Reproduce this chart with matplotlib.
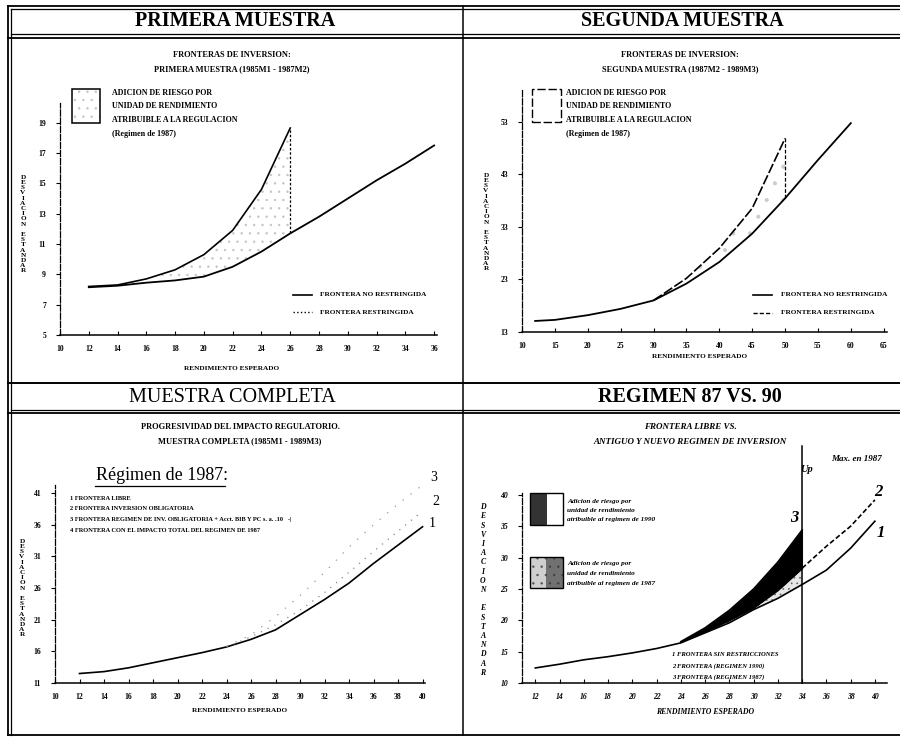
import numpy as np
import matplotlib
matplotlib.use("Agg")
from matplotlib import pyplot as plt
from matplotlib.lines import Line2D
from matplotlib.patches import Rectangle

plt.rcParams["hatch.linewidth"] = 0.5

# ---- datos ----
# primera muestra
x1 = [12, 14, 16, 18, 20, 22, 24, 26, 28, 30, 32, 34, 36]
libre1 = [8.15, 8.25, 8.45, 8.6, 8.85, 9.5, 10.5, 11.7, 12.8, 14.0, 15.2, 16.3, 17.5]
x1r = [12, 14, 16, 18, 20, 22, 24, 26]
restr1 = [8.2, 8.3, 8.7, 9.3, 10.3, 11.9, 14.6, 18.65]

# segunda muestra
x2 = [12, 15, 20, 25, 30, 35, 40, 45, 50, 55, 60]
libre2 = [15.1, 15.3, 16.2, 17.4, 19.0, 22.2, 26.3, 31.7, 38.4, 45.7, 52.7]
x2r = [30, 35, 40, 45, 50]
restr2 = [19.0, 23.2, 28.9, 36.5, 49.8]

# muestra completa
x3 = [12, 14, 16, 18, 20, 22, 24, 26, 28, 30, 32, 34, 36, 38, 40]
libre3 = [12.5, 12.8, 13.4, 14.2, 15.0, 15.8, 16.7, 17.9, 19.4, 21.8, 24.2, 26.8, 29.9, 32.8, 35.7]
x3b = [24, 26, 28, 30, 32, 34, 36, 38, 40]
oblig3 = [16.7, 18.3, 20.2, 22.5, 25.3, 28.5, 31.8, 35.0, 38.2]
reg3 = [16.8, 18.6, 21.5, 24.8, 28.5, 32.5, 36.0, 39.3, 42.3]

# regimen 87 vs 90
x4 = [12, 14, 16, 18, 20, 22, 24, 26, 28, 30, 32, 34, 36, 38, 40]
libre4 = [12.4, 13.0, 13.7, 14.2, 14.8, 15.5, 16.4, 18.0, 19.6, 21.7, 23.5, 25.7, 28.0, 31.5, 35.8]
x4b = [24, 26, 28, 30, 32, 34, 36, 38, 40]
reg90 = [16.5, 18.2, 20.0, 22.0, 24.8, 28.3, 31.8, 35.0, 39.2]
x4c = [24, 26, 28, 30, 32, 34]
reg87 = [16.6, 18.8, 21.6, 25.0, 29.3, 34.4]
max87 = 34

ylab = "\n".join("DESVIACION") + "\n\n" + "\n".join("ESTANDAR")
SERIF = ["Liberation Serif", "DejaVu Serif"]

W, H = 900, 738
fig = plt.figure(figsize=(9, 7.38), dpi=100)
fig.patch.set_facecolor("white")


def fx(x):
    return x / W


def fy(y):
    return 1 - y / H


def line_px(xs, ys, lw=1.3, **kw):
    fig.add_artist(Line2D([fx(v) for v in xs], [fy(v) for v in ys], color="k", lw=lw, **kw))


def text_px(x, y, s, size=6, **kw):
    kw.setdefault("family", SERIF)
    kw.setdefault("weight", "bold")
    fig.text(fx(x), fy(y), s, fontsize=size, **kw)


def rect_px(x0, y0, x1, y1, **kw):
    fig.add_artist(Rectangle((fx(x0), fy(y1)), fx(x1 - x0), y1 / H - y0 / H,
                             transform=fig.transFigure, **kw))


def axes_px(l, t, r, b, xlim, ylim, xt, yt, italic=False):
    ax = fig.add_axes([fx(l), fy(b), fx(r - l), (b - t) / H])
    ax.set_xlim(xlim)
    ax.set_ylim(ylim)
    for s in ["top", "right"]:
        ax.spines[s].set_visible(False)
    ax.spines["left"].set_linestyle((0, (5, 1.5)))
    ax.spines["left"].set_linewidth(0.9)
    ax.spines["bottom"].set_linewidth(1.1)
    ax.set_xticks(xt)
    ax.set_yticks(yt)
    ax.tick_params(axis="x", direction="in", length=3, width=0.8, pad=7)
    ax.tick_params(axis="y", direction="out", length=3, width=0.8, pad=7)
    style = "italic" if italic else "normal"
    for lab in ax.get_xticklabels() + ax.get_yticklabels():
        lab.set_family(SERIF)
        lab.set_weight("bold")
        lab.set_fontsize(5.5)
        lab.set_style(style)
    ax.patch.set_alpha(0)
    return ax


# ---- marcos de la pagina ----
line_px([8, 900], [6, 6])
line_px([11, 900], [9, 9], lw=0.9)
line_px([11, 900], [34, 34], lw=0.9)
line_px([8, 900], [38, 38])
line_px([8, 8], [6, 735])
line_px([11, 11], [9, 735], lw=0.9)
line_px([463, 463], [6, 735], lw=1.1)
line_px([8, 900], [383, 383], lw=1.4)
line_px([11, 900], [410, 410], lw=0.9)
line_px([8, 900], [413, 413])
line_px([8, 900], [735, 735])

text_px(235, 21, "PRIMERA MUESTRA", size=14.5, ha="center", va="center")
text_px(682, 21, "SEGUNDA MUESTRA", size=14.5, ha="center", va="center")
text_px(232, 397, "MUESTRA COMPLETA", size=14.5, ha="center", va="center", weight="normal")
text_px(690, 397, "REGIMEN 87 VS. 90", size=14.5, ha="center", va="center")

# ---- panel 1: primera muestra ----
ax1 = axes_px(60, 103, 437, 335, (10, 36.2), (5, 20.3), range(10, 37, 2), range(5, 20, 2))
ax1.fill_between(x1r, libre1[:len(x1r)], restr1, facecolor="none", edgecolor="#c4c4c4",
                 hatch="..", lw=0)
ax1.plot(x1, libre1, color="k", lw=1.3)
ax1.plot(x1r, restr1, color="k", lw=1.2)
ax1.vlines(x1r[-1], libre1[len(x1r) - 1], restr1[-1], colors="k", linestyles=(0, (2, 1.5)), lw=0.9)

text_px(232, 55, "FRONTERAS DE INVERSION:", ha="center", va="center")
text_px(232, 69, "PRIMERA MUESTRA (1985M1 - 1987M2)", ha="center", va="center")
rect_px(72, 89, 100, 123, facecolor="none", edgecolor="#c4c4c4", hatch="..", lw=0)
rect_px(72, 89, 100, 123, facecolor="none", edgecolor="k", lw=1.1)
for i, s in enumerate(["ADICION DE RIESGO POR", "UNIDAD DE RENDIMIENTO",
                       "ATRIBUIBLE A LA REGULACION", "(Regimen de 1987)"]):
    text_px(112, 93 + i * 13.5, s, size=5.8, va="center")
line_px([293, 312], [295, 295], lw=1.2)
line_px([293, 312], [312, 312], lw=1.0, ls=":")
text_px(320, 295, "FRONTERA NO RESTRINGIDA", size=5.2, va="center")
text_px(320, 312, "FRONTERA RESTRINGIDA", size=5.2, va="center")
text_px(23, 224, ylab, size=5.2, ha="center", va="center", linespacing=1.05)
text_px(232, 368, "RENDIMIENTO ESPERADO", size=5.2, ha="center", va="center")

# ---- panel 2: segunda muestra ----
ax2 = axes_px(522, 90, 887, 332, (10, 65.5), (13, 59), range(10, 66, 5), range(13, 54, 10))
ax2.fill_between(x2r, libre2[4:9], restr2, facecolor="none", edgecolor="#cccccc",
                 hatch=".", lw=0)
ax2.plot(x2, libre2, color="k", lw=1.3)
ax2.plot(x2r, restr2, color="k", lw=1.2, ls=(0, (6, 1.5)))
ax2.vlines(x2r[-1], libre2[8], restr2[-1], colors="k", linestyles=(0, (3, 1.5)), lw=0.9)

text_px(680, 55, "FRONTERAS DE INVERSION:", ha="center", va="center")
text_px(680, 69, "SEGUNDA MUESTRA (1987M2 - 1989M3)", ha="center", va="center")
rect_px(532, 89, 561, 122, facecolor="none", edgecolor="k", lw=1.0, ls=(0, (6, 2)))
for i, s in enumerate(["ADICION DE RIESGO POR", "UNIDAD DE RENDIMIENTO",
                       "ATRIBUIBLE A LA REGULACION", "(Regimen de 1987)"]):
    text_px(566, 93 + i * 13.5, s, size=5.8, va="center")
line_px([753, 772], [295, 295], lw=1.2)
line_px([753, 772], [313, 313], lw=1.0, ls=(0, (3, 1.5)))
text_px(781, 295, "FRONTERA NO RESTRINGIDA", size=5.2, va="center")
text_px(781, 313, "FRONTERA RESTRINGIDA", size=5.2, va="center")
text_px(486, 222, ylab, size=5.2, ha="center", va="center", linespacing=1.05)
text_px(700, 357, "RENDIMIENTO ESPERADO", size=5.2, ha="center", va="center")

# ---- panel 3: muestra completa ----
ax3 = axes_px(55, 485, 425, 683, (10, 40.2), (11, 42.3), range(10, 41, 2), range(11, 42, 5))
ax3.plot(x3, libre3, color="k", lw=1.2)
ax3.plot(x3b, oblig3, color="#888888", lw=0.9, ls=(0, (1, 5)))
ax3.plot(x3b, reg3, color="#999999", lw=0.9, ls=(0, (1, 7)), clip_on=False)
ax3.text(40.5, libre3[-1] + 0.5, "1", fontsize=10, family=SERIF, ha="left", va="center")
ax3.text(40.8, oblig3[-1] + 1.5, "2", fontsize=10, family=SERIF, ha="left", va="center")
ax3.text(40.6, 43.5, "3", fontsize=10, family=SERIF, ha="left", va="center", clip_on=False)

text_px(240, 427, "PROGRESIVIDAD DEL IMPACTO REGULATORIO.", ha="center", va="center")
text_px(240, 441, "MUESTRA COMPLETA (1985M1 - 1989M3)", ha="center", va="center")
text_px(162, 475, "Régimen de 1987:", size=13, ha="center", va="center", weight="normal")
line_px([95, 225], [486, 486], lw=0.9)
leg3 = ["1 FRONTERA LIBRE", "2 FRONTERA INVERSION OBLIGATORIA",
        "3 FRONTERA REGIMEN DE INV. OBLIGATORIA + Acct. BIB Y PC s. a. .10   -|",
        "4 FRONTERA CON EL IMPACTO TOTAL DEL REGIMEN DE 1987"]
for i, s in enumerate(leg3):
    text_px(70, 498 + i * 10.8, s, size=4.6, va="center")
text_px(22, 588, ylab, size=5.2, ha="center", va="center", linespacing=1.05)
text_px(240, 711, "RENDIMIENTO ESPERADO", size=5.2, ha="center", va="center")

# ---- panel 4: regimen 87 vs 90 ----
ax4 = axes_px(522, 493, 887, 683, (10.9, 41), (10, 40.3), range(12, 41, 2), range(10, 41, 5),
              italic=True)
ax4.fill_between(x4c, libre4[6:12], reg90[:len(x4c)], facecolor="#e6e6e6",
                 edgecolor="#666666", hatch="...", lw=0)
ax4.fill_between(x4c, reg90[:len(x4c)], reg87, facecolor="black", edgecolor="black", lw=0.6)
ax4.plot(x4, libre4, color="k", lw=1.2)
ax4.plot(x4b[:6], reg90[:6], color="k", lw=1.2)
ax4.plot(x4b[5:], reg90[5:], color="k", lw=1.2, ls=(0, (3, 1.5)))
ax4.plot(x4c, reg87, color="k", lw=1.2)
ax4.axvline(max87, ymin=0, ymax=1.25, color="k", lw=1.1, clip_on=False)
ax4.text(max87 - 0.3, 36.3, "3", fontsize=12, family=SERIF, style="italic", weight="bold",
         ha="right", va="center")
ax4.text(40.3, 40.5, "2", fontsize=12, family=SERIF, style="italic", weight="bold",
         ha="center", va="center")
ax4.text(40.5, 34.0, "1", fontsize=12, family=SERIF, style="italic", weight="bold",
         ha="center", va="center")

text_px(690, 427, "FRONTERA LIBRE VS.", ha="center", va="center", style="italic", size=6.5)
text_px(690, 442, "ANTIGUO Y NUEVO REGIMEN DE INVERSION", ha="center", va="center",
        style="italic", size=6.5)
text_px(882, 459, "Max. en 1987", ha="right", va="center", style="italic", size=6.5)
text_px(800, 470, "Up", ha="left", va="center", style="italic", size=7.5)

rect_px(530, 493, 547, 525, facecolor="#333333", edgecolor="none")
rect_px(530, 493, 563, 525, facecolor="none", edgecolor="k", lw=1.0)
rect_px(530, 557, 563, 588, facecolor="#cfcfcf", edgecolor="#555555", hatch="..", lw=0)
rect_px(546, 557, 563, 588, facecolor="#333333", edgecolor="none", alpha=0.6)
rect_px(530, 557, 563, 588, facecolor="none", edgecolor="k", lw=1.0)
for i, s in enumerate(["Adicion de riesgo por", "unidad de rendimiento",
                       "atribuible al regimen de 1990"]):
    text_px(567, 501 + i * 9.5, s, size=5.2, va="center", style="italic")
for i, s in enumerate(["Adicion de riesgo por", "unidad de rendimiento",
                       "atribuible al regimen de 1987"]):
    text_px(567, 564 + i * 9.5, s, size=5.2, va="center", style="italic")
for i, s in enumerate(["1 FRONTERA SIN RESTRICCIONES", "2 FRONTERA (REGIMEN 1990)",
                       "3 FRONTERA (REGIMEN 1987)"]):
    text_px(672, 655 + i * 11, s, size=4.8, va="center", style="italic")
text_px(483, 590, ylab, size=5.6, ha="center", va="center", linespacing=1.2, style="italic")
text_px(705, 712, "RENDIMIENTO ESPERADO", size=5.6, ha="center", va="center", style="italic")

plt.savefig("out.png", dpi=100)
plt.close()
